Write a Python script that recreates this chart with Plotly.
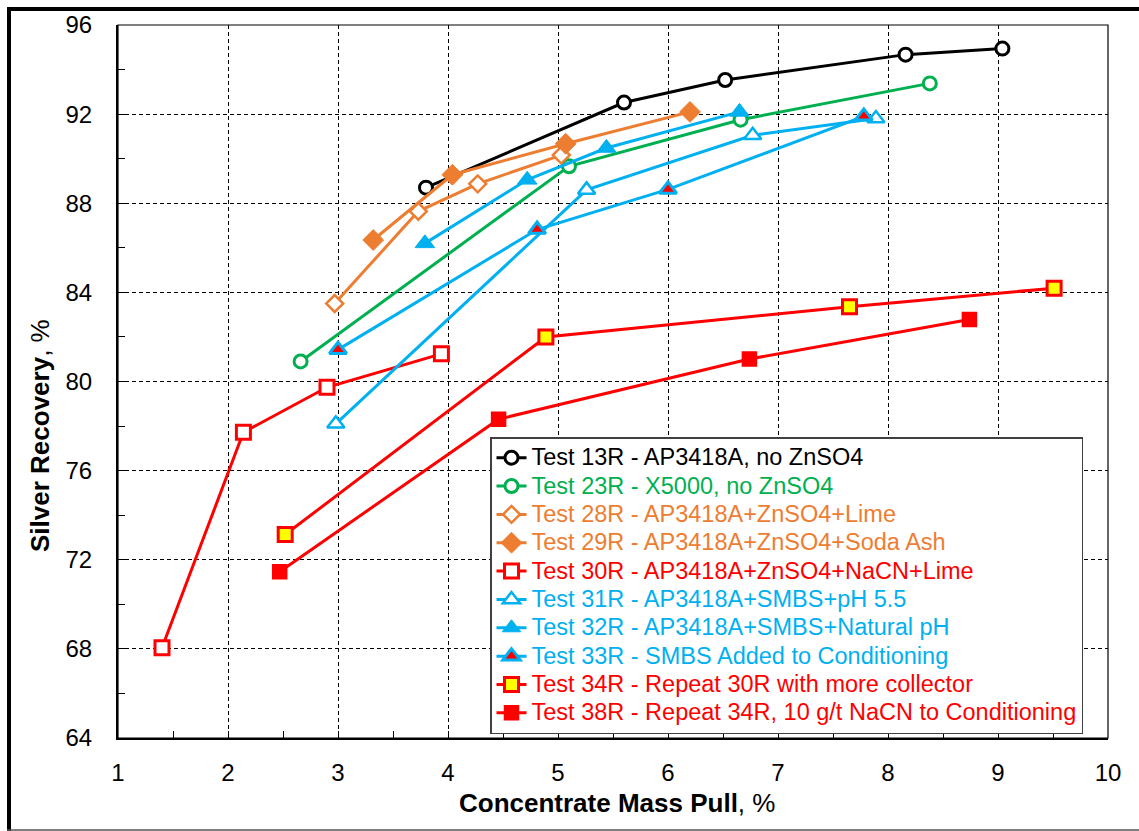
import plotly.graph_objects as go

# ---------------- data ----------------
t13_x = [3.80, 5.60, 6.52, 8.16, 9.04]
t13_y = [88.70, 92.52, 93.53, 94.67, 94.94]
t23_x = [2.66, 5.10, 6.66, 8.38]
t23_y = [80.90, 89.66, 91.75, 93.38]
t28_x = [2.97, 3.73, 4.27, 5.03]
t28_y = [83.50, 87.64, 88.87, 90.16]
t29_x = [3.32, 4.04, 5.07, 6.20]
t29_y = [86.35, 89.28, 90.67, 92.10]
t30_x = [1.40, 2.14, 2.90, 3.94]
t30_y = [68.05, 77.72, 79.74, 81.24]
t31_x = [2.98, 5.26, 6.77, 7.89]
t31_y = [78.10, 88.60, 91.05, 91.80]
t32_x = [3.79, 4.72, 5.44, 6.65]
t32_y = [86.20, 89.05, 90.48, 92.10]
t33_x = [3.00, 4.81, 6.00, 7.78]
t33_y = [81.43, 86.82, 88.62, 91.90]
t34_x = [2.52, 4.89, 7.65, 9.51]
t34_y = [73.13, 82.00, 83.35, 84.19]
t38_x = [2.47, 4.46, 6.74, 8.74]
t38_y = [71.46, 78.31, 81.01, 82.78]

labels = [
    "Test 13R - AP3418A, no ZnSO4",
    "Test 23R - X5000, no ZnSO4",
    "Test 28R - AP3418A+ZnSO4+Lime",
    "Test 29R - AP3418A+ZnSO4+Soda Ash",
    "Test 30R - AP3418A+ZnSO4+NaCN+Lime",
    "Test 31R - AP3418A+SMBS+pH 5.5",
    "Test 32R - AP3418A+SMBS+Natural pH",
    "Test 33R - SMBS Added to Conditioning",
    "Test 34R - Repeat 30R with more collector",
    "Test 38R - Repeat 34R, 10 g/t NaCN to Conditioning",
]
x_title = "Concentrate Mass Pull"
y_title = "Silver Recovery"
x_ticks = [1, 2, 3, 4, 5, 6, 7, 8, 9, 10]
y_ticks = [64, 68, 72, 76, 80, 84, 88, 92, 96]

# ---------------- styling ----------------
BLACK = "#000000"
GREEN = "#00B050"
ORANGE = "#ED7D31"
RED = "#FF0000"
BLUE = "#00B0F0"
YELLOW = "#FFFF00"
FONT = "Liberation Sans, Arial, sans-serif"

W, H = 1139, 831
L, R, T, B = 118, 31, 25, 93
PW, PH = W - L - R, H - T - B


def xp(px):
    return (px - L) / PW


def yp(py):
    return (H - B - py) / PH


series = [
    (t13_x, t13_y, BLACK, dict(symbol="circle", size=13, color="white", line=dict(color=BLACK, width=3))),
    (t23_x, t23_y, GREEN, dict(symbol="circle", size=13, color="white", line=dict(color=GREEN, width=3))),
    (t28_x, t28_y, ORANGE, dict(symbol="diamond", size=13, color="white", line=dict(color=ORANGE, width=2.5))),
    (t29_x, t29_y, ORANGE, dict(symbol="diamond", size=16, color=ORANGE, line=dict(color=ORANGE, width=1))),
    (t30_x, t30_y, RED, dict(symbol="square", size=14, color="white", line=dict(color=RED, width=3))),
    (t31_x, t31_y, BLUE, dict(symbol="triangle-up", size=15, color="white", line=dict(color=BLUE, width=2.5))),
    (t32_x, t32_y, BLUE, dict(symbol="triangle-up", size=17, color=BLUE, line=dict(color=BLUE, width=1))),
    (t33_x, t33_y, BLUE, dict(symbol="triangle-up", size=15, color=RED, line=dict(color=BLUE, width=3))),
    (t34_x, t34_y, RED, dict(symbol="square", size=14, color=YELLOW, line=dict(color=RED, width=3))),
    (t38_x, t38_y, RED, dict(symbol="square", size=14, color=RED, line=dict(color=RED, width=1.5))),
]

fig = go.Figure()
for (xs, ys, col, mk), lab in zip(series, labels):
    fig.add_trace(go.Scatter(
        x=xs, y=ys, mode="lines+markers",
        line=dict(color=col, width=3),
        marker=mk,
        name=f'<span style="font-size:23.5px;color:{col}">{lab}</span>',
    ))

axis_common = dict(
    showgrid=True, gridcolor="#000000", gridwidth=1, griddash="4px,3px",
    showline=True, linecolor=BLACK, linewidth=2,
    ticks="inside", ticklen=7, tickwidth=1.2, tickcolor=BLACK,
    zeroline=False,
    tickfont=dict(family=FONT, size=24, color=BLACK),
)

fig.update_xaxes(
    range=[x_ticks[0], x_ticks[-1]], tickvals=x_ticks, ticklabelstandoff=12,
    minor=dict(dtick=0.5, tick0=1, ticks="inside", ticklen=7, tickwidth=1.2, tickcolor=BLACK, showgrid=False),
    **axis_common,
)
fig.update_yaxes(
    range=[y_ticks[0], y_ticks[-1]], tickvals=y_ticks, ticklabelstandoff=19,
    minor=dict(dtick=2, tick0=64, ticks="inside", ticklen=7, tickwidth=1.2, tickcolor=BLACK, showgrid=False),
    **axis_common,
)

shapes = [
    # plot-area border (top/right thin)
    dict(type="rect", xref="paper", yref="paper", x0=0, x1=1, y0=0, y1=1,
         line=dict(color=BLACK, width=1.2), layer="above"),
    # outer chart frame
    dict(type="line", xref="paper", yref="paper", x0=xp(7), x1=xp(W + 5), y0=yp(9), y1=yp(9),
         line=dict(color=BLACK, width=4)),
    dict(type="line", xref="paper", yref="paper", x0=xp(9), x1=xp(9), y0=yp(7), y1=yp(H + 5),
         line=dict(color=BLACK, width=4)),
    dict(type="line", xref="paper", yref="paper", x0=xp(7), x1=xp(W + 5), y0=yp(830), y1=yp(830),
         line=dict(color="#555555", width=1.5)),
]

annotations = [
    dict(text=f"<b>{x_title}</b>, %", xref="paper", yref="paper", x=xp(616.5), y=yp(803),
         xanchor="center", yanchor="middle", showarrow=False,
         font=dict(family=FONT, size=26, color=BLACK)),
    dict(text=f"<b>{y_title}</b>, %", xref="paper", yref="paper", x=xp(40), y=yp(436),
         xanchor="center", yanchor="middle", showarrow=False, textangle=-90,
         font=dict(family=FONT, size=26, color=BLACK)),
]

fig.update_layout(
    width=W, height=H, autosize=False,
    margin=dict(l=L, r=R, t=T, b=B, pad=0),
    paper_bgcolor="white", plot_bgcolor="white",
    font=dict(family=FONT, color=BLACK),
    showlegend=True,
    legend=dict(
        x=xp(490), y=yp(437), xanchor="left", yanchor="top",
        bgcolor="white", bordercolor="#404040", borderwidth=1.5,
        font=dict(family=FONT, size=19.5, color=BLACK),
        tracegroupgap=0, itemsizing="trace",
    ),
    shapes=shapes,
    annotations=annotations,
)

fig.write_html("out.html")
